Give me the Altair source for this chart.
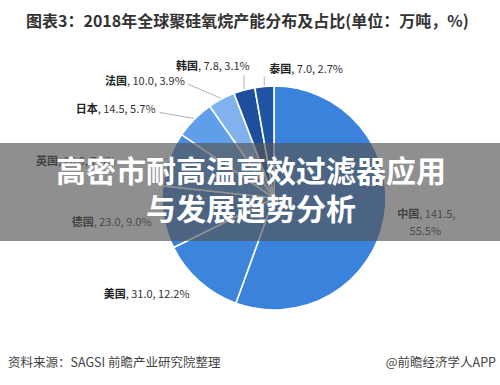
import altair as alt
import pandas as pd

# ---- data ----
countries = ["中国", "美国", "德国", "英国", "日本", "法国", "韩国", "泰国"]
capacity = [141.5, 31.0, 23.0, 20.0, 14.5, 10.0, 7.8, 7.0]
share = [55.5, 12.2, 9.0, 7.8, 5.7, 3.9, 3.1, 2.7]

title_text = "图表3：2018年全球聚硅氧烷产能分布及占比(单位：万吨，%)"
banner_lines = ["高密市耐高温高效过滤器应用", "与发展趋势分析"]
source_text = "资料来源：SAGSI 前瞻产业研究院整理"
brand_text = "@前瞻经济学人APP"

# ---- styles / layout ----
colors = ["#3b82dc", "#3d84dc", "#3c81d9", "#4a8de0", "#5f9ee8", "#80b3ee", "#1e4f9e", "#2054a4"]
FONT = "Noto Sans CJK SC"
CX, CY, R = 274, 198, 112
W, H = 500, 385

# label anchor offsets from the slice's outer-edge midpoint (name | rest boundary)
label_off = {"中国": (34, -3), "美国": (-73, 13), "德国": (-69, 5), "英国": (-110, 3),
             "日本": (-96, -8), "法国": (-94, -16), "韩国": (-46, -22), "泰国": (27, -15)}
cn_line2_off = (40, 14)
leader_off = {"英国": (-52, 3), "日本": (-34, -6), "法国": (-33, -14), "韩国": (0, -14), "泰国": (0, -9)}

df = pd.DataFrame({"idx": list(range(len(countries))), "country": countries,
                   "value": capacity, "share": share})

pie = alt.Chart(df).mark_arc(outerRadius=R, stroke="white", strokeWidth=1.6).encode(
    theta=alt.Theta("value:Q", stack=True),
    color=alt.Color("country:N", scale=alt.Scale(domain=countries, range=colors), legend=None),
    order=alt.Order("idx:Q"),
    x=alt.value(CX),
    y=alt.value(CY),
)

polar = alt.Chart(df).transform_window(
    cum="sum(value)", sort=[alt.SortField("idx")], frame=[None, 0]
).transform_joinaggregate(total="sum(value)").transform_calculate(
    mid="(datum.cum - datum.value / 2) / datum.total * 2 * PI",
).transform_calculate(
    ex=f"{CX} + {R + 1} * sin(datum.mid)",
    ey=f"{CY} - {R + 1} * cos(datum.mid)",
    rest="', ' + format(datum.value, '.1f') + ', ' + format(datum.share, '.1f') + '%'",
    rest1="', ' + format(datum.value, '.1f') + ','",
    pct="format(datum.share, '.1f') + '%'",
)

layers = [pie]

# leader lines
for c, (ldx, ldy) in leader_off.items():
    layers.append(
        polar.transform_filter(alt.datum.country == c).transform_calculate(
            lx2=f"datum.ex + {ldx}", ly2=f"datum.ey + {ldy}"
        ).mark_rule(color="#a0a0a0", strokeWidth=0.8).encode(
            x=alt.X("ex:Q", scale=None), y=alt.Y("ey:Q", scale=None),
            x2=alt.X2("lx2:Q"), y2=alt.Y2("ly2:Q"),
        )
    )

# labels
for c, (dx, dy) in label_off.items():
    sub = polar.transform_filter(alt.datum.country == c)
    layers.append(
        sub.mark_text(align="right", baseline="middle", font=FONT, fontSize=11,
                      fontWeight="bold", color="#222222", dx=dx, dy=dy).encode(
            x=alt.X("ex:Q", scale=None), y=alt.Y("ey:Q", scale=None), text="country:N")
    )
    rest_field = "rest1:N" if c == "中国" else "rest:N"
    layers.append(
        sub.mark_text(align="left", baseline="middle", font=FONT, fontSize=11,
                      color="#333333", dx=dx, dy=dy).encode(
            x=alt.X("ex:Q", scale=None), y=alt.Y("ey:Q", scale=None), text=rest_field)
    )
    if c == "中国":
        layers.append(
            sub.mark_text(align="center", baseline="middle", font=FONT, fontSize=11,
                          color="#333333", dx=cn_line2_off[0], dy=cn_line2_off[1]).encode(
                x=alt.X("ex:Q", scale=None), y=alt.Y("ey:Q", scale=None), text="pct:N")
        )

one = pd.DataFrame({"k": [0]})

# translucent banner
layers.append(
    alt.Chart(one).mark_rect(color="#555555", opacity=0.66).encode(
        x=alt.value(0), x2=alt.value(W), y=alt.value(143), y2=alt.value(241))
)
for txt, yy in zip(banner_lines, [173, 211]):
    layers.append(
        alt.Chart(pd.DataFrame({"t": [txt]})).mark_text(
            font=FONT, fontSize=30, fontWeight="bold", color="white",
            align="center", baseline="middle").encode(
            text="t:N", x=alt.value(251), y=alt.value(yy))
    )

# title
layers.append(
    alt.Chart(pd.DataFrame({"t": [title_text]})).mark_text(
        font=FONT, fontSize=16, fontWeight="bold", color="#333333",
        align="left", baseline="middle").encode(
        text="t:N", x=alt.value(26), y=alt.value(22))
)
# footer
layers.append(
    alt.Chart(pd.DataFrame({"t": [source_text]})).mark_text(
        font=FONT, fontSize=12.5, color="#444444", align="left", baseline="middle").encode(
        text="t:N", x=alt.value(8), y=alt.value(363))
)
layers.append(
    alt.Chart(pd.DataFrame({"t": [brand_text]})).mark_text(
        font=FONT, fontSize=12.5, color="#444444", align="right", baseline="middle").encode(
        text="t:N", x=alt.value(496), y=alt.value(363))
)

chart = alt.layer(*layers).properties(
    width=W, height=H, autosize="none", padding=0, background="white"
).configure_view(stroke=None)

chart.save("out.html", embed_options={"renderer": "svg", "actions": False})
